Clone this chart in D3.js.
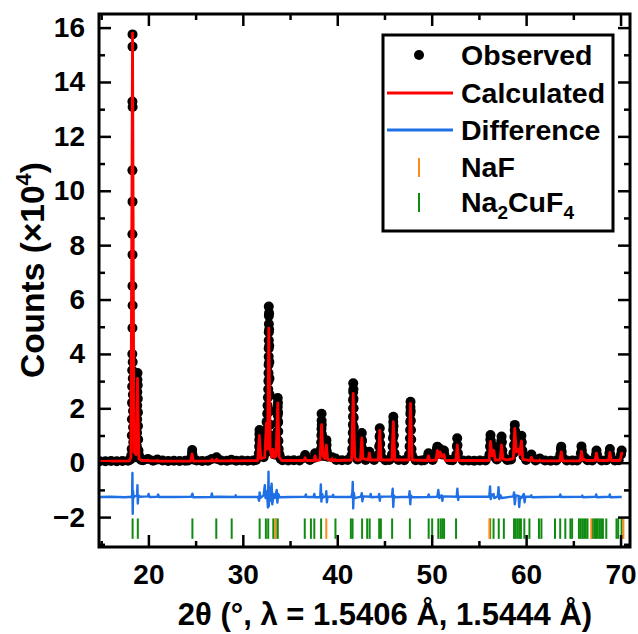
<!DOCTYPE html>
<html>
<head>
<meta charset="utf-8">
<script src="https://cdn.jsdelivr.net/npm/d3@7"></script>
<style>
  body { margin: 0; background: #fff; }
  svg { display: block; }
  text { font-family: "Liberation Sans", Arial, sans-serif; font-weight: bold; fill: #000; }
</style>
</head>
<body>
<svg id="chart" width="638" height="634"></svg>
<script>
// Powder pattern: observed counts (x10^4) against 2-theta (degrees)
const observed = [
  // background
  [14.85,0.05],[15.45,0.05],[16.05,0.06],[16.65,0.05],[17.25,0.06],[17.85,0.07],[19.45,0.09],[20.5,0.07],
  [21.5,0.08],[22.1,0.06],[22.7,0.07],[23.3,0.06],[23.9,0.07],[24.2,0.08],[25.1,0.08],[25.7,0.06],[26.3,0.07],
  [27.7,0.08],[28.3,0.07],[29.3,0.07],[29.9,0.08],[30.5,0.07],[31.1,0.08],[31.4,0.1],[34.2,0.09],[34.8,0.08],
  [35.4,0.09],[36.0,0.08],[37.1,0.1],[39.9,0.1],[40.5,0.09],[41.1,0.1],[42.15,0.12],[43.0,0.1],[43.9,0.1],
  [45.1,0.09],[45.5,0.1],[46.5,0.1],[47.1,0.09],[48.3,0.09],[48.9,0.08],[49.2,0.09],[50.1,0.1],[51.9,0.1],
  [52.2,0.09],[53.3,0.08],[53.9,0.08],[54.5,0.07],[55.1,0.08],[55.7,0.08],[56.9,0.12],[58.0,0.1],[58.4,0.12],
  [60.0,0.1],[61.0,0.08],[62.0,0.08],[62.6,0.07],[63.2,0.08],[64.3,0.08],[64.9,0.08],[65.4,0.08],[66.5,0.09],
  [67.0,0.08],[68.0,0.08],[68.5,0.09],[69.4,0.08],[69.8,0.09],
  // 18-19 degrees
  [18.32,15.75],[18.32,15.3],[18.31,13.28],[18.33,13.08],[18.31,10.75],[18.32,9.6],[18.31,8.4],[18.32,7.65],
  [18.31,6.5],[18.33,5.78],[18.31,4.95],[18.3,4.0],[18.34,3.7],[18.29,3.4],[18.35,3.1],[18.28,2.8],[18.36,2.5],
  [18.27,2.2],[18.37,1.9],[18.26,1.6],[18.38,1.3],[18.25,1.0],[18.4,0.75],[18.23,0.5],[18.43,0.4],[18.18,0.25],
  [18.5,0.3],[18.1,0.12],[18.6,0.2],
  [18.85,3.3],[18.84,3.05],[18.87,2.85],[18.83,2.6],[18.88,2.35],[18.82,2.1],[18.89,1.85],[18.81,1.6],
  [18.9,1.35],[18.8,1.1],[18.92,0.85],[18.78,0.6],[18.95,0.45],[18.72,0.35],[19.02,0.25],[19.12,0.15],[19.25,0.1],
  [19.95,0.14],[20.95,0.12],
  [24.58,0.2],[24.62,0.35],[24.64,0.47],[24.68,0.28],[24.75,0.12],
  [26.73,0.14],[27.22,0.2],[27.27,0.14],[28.78,0.11],
  // 31-34 degrees
  [31.7,0.35],[31.73,0.6],[31.75,0.85],[31.76,1.05],[31.77,1.2],[31.79,0.8],[31.81,0.5],[31.88,0.25],
  [32.2,0.2],[32.35,0.35],[32.45,0.6],[32.48,0.9],[32.5,1.2],[32.52,1.5],[32.58,1.8],[32.62,2.1],[32.66,2.4],
  [32.69,2.7],[32.71,3.0],[32.72,3.3],[32.73,3.6],[32.74,3.9],[32.74,4.2],[32.75,4.5],[32.75,4.8],[32.76,5.1],
  [32.76,5.4],[32.75,5.74],[32.78,5.5],[32.79,4.9],[32.8,4.3],[32.81,3.7],[32.82,3.1],[32.84,2.5],[32.86,1.9],
  [32.88,1.4],[32.9,1.0],[32.94,0.7],[33.0,0.45],[33.1,0.4],[33.18,0.55],[33.21,0.7],[33.25,0.45],[33.35,0.3],
  [33.5,0.3],[33.6,0.55],[33.65,0.85],[33.67,1.15],[33.68,1.45],[33.69,1.75],[33.7,2.05],[33.7,2.38],[33.72,2.2],
  [33.73,1.85],[33.74,1.5],[33.75,1.15],[33.77,0.8],[33.8,0.5],[33.88,0.3],[34.0,0.15],
  // 36-40 degrees
  [36.55,0.18],[36.6,0.28],[36.64,0.2],[37.6,0.18],[37.65,0.35],[37.68,0.22],
  [38.22,0.25],[38.28,0.5],[38.3,0.75],[38.32,1.0],[38.33,1.25],[38.34,1.55],[38.34,1.8],[38.36,1.4],[38.37,1.05],
  [38.39,0.7],[38.42,0.45],[38.5,0.3],[38.6,0.25],[38.75,0.3],[38.82,0.5],[38.85,0.83],[38.87,0.65],[38.9,0.4],
  [38.98,0.22],[39.45,0.2],[39.82,0.15],
  // 41-48 degrees
  [41.5,0.25],[41.58,0.5],[41.62,0.8],[41.64,1.1],[41.66,1.4],[41.67,1.7],[41.68,2.0],[41.68,2.3],[41.69,2.6],
  [41.69,2.92],[41.71,2.7],[41.72,2.35],[41.73,2.0],[41.74,1.65],[41.75,1.3],[41.77,0.95],[41.8,0.6],[41.86,0.35],
  [41.95,0.2],
  [42.5,0.3],[42.55,0.6],[42.58,0.85],[42.6,1.09],[42.62,0.8],[42.65,0.5],[42.72,0.25],
  [43.35,0.25],[43.4,0.4],[43.45,0.25],
  [44.38,0.3],[44.44,0.6],[44.48,0.95],[44.5,1.27],[44.52,1.0],[44.55,0.7],[44.6,0.4],[44.68,0.2],
  [45.8,0.3],[45.86,0.6],[45.9,0.9],[45.92,1.2],[45.93,1.5],[45.94,1.69],[45.96,1.35],[45.98,1.0],[46.01,0.65],
  [46.06,0.35],[46.15,0.18],
  [47.6,0.3],[47.66,0.6],[47.7,0.9],[47.72,1.2],[47.73,1.5],[47.74,1.8],[47.75,2.05],[47.76,2.24],[47.78,1.9],
  [47.79,1.55],[47.81,1.2],[47.83,0.85],[47.86,0.5],[47.93,0.25],
  // 49-53 degrees
  [49.6,0.22],[49.66,0.35],[49.7,0.2],
  [50.5,0.3],[50.55,0.5],[50.6,0.59],[50.65,0.4],[50.9,0.5],[50.95,0.35],[51.1,0.3],[51.3,0.45],[51.34,0.3],
  [52.62,0.3],[52.67,0.6],[52.7,0.9],[52.73,0.65],[52.78,0.35],
  // 56-61 degrees
  [56.12,0.3],[56.18,0.6],[56.21,0.85],[56.23,1.02],[56.26,0.8],[56.3,0.5],[56.42,0.35],[56.55,0.45],[56.58,0.6],
  [56.62,0.4],[56.72,0.2],
  [57.25,0.3],[57.32,0.55],[57.37,0.8],[57.4,0.96],[57.43,0.75],[57.48,0.45],[57.58,0.22],
  [58.65,0.35],[58.72,0.65],[58.76,0.95],[58.79,1.2],[58.8,1.39],[58.83,1.15],[58.87,0.9],[58.93,0.75],[59.0,0.7],
  [59.08,0.6],[59.2,0.55],[59.3,0.5],[59.4,0.6],[59.46,0.8],[59.5,0.99],[59.54,0.75],[59.6,0.45],[59.72,0.25],
  [60.5,0.22],[60.56,0.3],[60.62,0.2],[61.45,0.15],
  // 63-70 degrees
  [63.62,0.3],[63.68,0.5],[63.72,0.59],[63.77,0.4],[63.85,0.2],
  [65.8,0.35],[65.86,0.6],[65.9,0.45],[66.0,0.25],[66.2,0.18],
  [67.4,0.3],[67.45,0.45],[67.5,0.3],
  [68.82,0.35],[68.87,0.5],[68.92,0.3],
  [70.05,0.3],[70.12,0.45]
];

// Refined profile
const calculated = [
  [14.85,0.05],[18.0,0.07],[18.15,0.2],[18.32,15.8],[18.47,0.4],[18.7,0.3],[18.85,3.1],[19.0,0.15],[19.3,0.08],
  [19.88,0.08],[19.95,0.1],[20.02,0.07],[20.88,0.07],[20.95,0.09],[21.02,0.06],[24.48,0.06],[24.62,0.32],[24.76,0.06],
  [26.66,0.07],[26.73,0.12],[26.8,0.07],[27.15,0.07],[27.22,0.13],[27.3,0.07],[28.71,0.07],[28.78,0.1],[28.85,0.07],
  [31.58,0.08],[31.75,1.0],[31.9,0.15],[32.32,0.2],[32.5,1.45],[32.62,0.5],[32.75,4.95],[32.9,0.5],[33.05,0.2],
  [33.2,0.5],[33.32,0.2],[33.52,0.25],[33.7,2.2],[33.86,0.2],[34.1,0.08],
  [36.47,0.08],[36.6,0.18],[36.72,0.08],[37.53,0.08],[37.65,0.25],[37.77,0.08],[38.18,0.1],[38.34,1.4],[38.5,0.25],
  [38.68,0.15],[38.85,0.65],[38.98,0.12],[39.35,0.08],[39.45,0.15],[39.55,0.08],[39.75,0.08],[39.82,0.12],[39.9,0.08],
  [41.52,0.1],[41.69,2.55],[41.85,0.2],[42.0,0.1],[42.46,0.1],[42.6,0.91],[42.73,0.15],[43.29,0.1],[43.4,0.35],
  [43.51,0.1],[44.35,0.1],[44.5,1.2],[44.65,0.1],[45.78,0.1],[45.94,1.51],[46.1,0.1],[47.58,0.1],[47.76,2.18],
  [47.93,0.1],[49.54,0.08],[49.66,0.25],[49.78,0.08],[50.47,0.1],[50.6,0.45],[50.74,0.2],[50.9,0.4],[51.08,0.2],
  [51.3,0.3],[51.44,0.08],[52.56,0.08],[52.71,0.65],[52.86,0.08],
  [56.08,0.08],[56.23,0.78],[56.4,0.25],[56.58,0.45],[56.72,0.1],[57.25,0.1],[57.4,0.65],[57.54,0.15],[58.0,0.1],
  [58.64,0.15],[58.8,1.26],[58.95,0.4],[59.15,0.5],[59.32,0.3],[59.5,0.8],[59.65,0.12],[60.44,0.08],[60.56,0.2],
  [60.68,0.08],[61.36,0.07],[61.45,0.1],[61.56,0.07],[63.57,0.07],[63.72,0.4],[63.86,0.07],[65.72,0.07],[65.86,0.42],
  [66.0,0.1],[66.18,0.12],[66.32,0.08],[67.3,0.08],[67.45,0.35],[67.6,0.08],[68.72,0.08],[68.87,0.38],[69.02,0.08],
  [69.95,0.08],[70.12,0.35],[70.15,0.3]
];

// Observed minus calculated, drawn with its offset baseline
const difference = [
  [14.85,-1.26],[16.0,-1.25],[17.5,-1.27],[18.2,-1.25],[18.28,-1.2],[18.31,-0.38],[18.34,-1.88],[18.38,-1.05],
  [18.42,-1.3],[18.5,-1.24],[18.8,-1.22],[18.84,-0.83],[18.88,-1.5],[18.93,-1.2],[19.1,-1.25],[19.95,-1.24],
  [20.03,-1.15],[20.1,-1.26],[20.95,-1.25],[21.04,-1.17],[21.12,-1.26],[22.5,-1.26],[24.55,-1.25],[24.66,-1.14],
  [24.74,-1.27],[26.65,-1.26],[26.72,-1.13],[26.8,-1.26],[27.3,-1.25],[29.2,-1.26],[29.25,-1.2],[29.32,-1.26],
  [31.6,-1.26],[31.72,-1.4],[31.78,-1.09],[31.85,-1.3],[32.2,-1.2],[32.33,-0.83],[32.4,-1.3],[32.55,-1.05],
  [32.66,-1.65],[32.72,-0.33],[32.76,-1.6],[32.82,-0.9],[32.88,-1.4],[32.98,-1.2],[33.05,-0.77],[33.12,-1.53],
  [33.25,-1.15],[33.4,-1.3],[33.59,-1.0],[33.66,-1.47],[33.75,-1.15],[33.9,-1.27],[35.0,-1.26],[36.6,-1.25],
  [36.67,-1.17],[36.74,-1.26],[37.5,-1.26],[37.57,-1.15],[37.64,-1.27],[38.2,-1.26],[38.26,-0.8],[38.32,-1.43],
  [38.4,-1.15],[38.5,-1.28],[38.78,-1.24],[38.84,-1.05],[38.9,-1.46],[38.98,-1.25],[39.5,-1.25],[39.56,-1.18],
  [39.63,-1.26],[41.5,-1.26],[41.6,-1.1],[41.64,-0.71],[41.69,-1.68],[41.75,-1.1],[41.85,-1.3],[42.5,-1.25],
  [42.6,-1.12],[42.66,-1.42],[42.75,-1.24],[43.5,-1.25],[43.54,-1.15],[43.6,-1.27],[44.38,-1.25],[44.44,-1.15],
  [44.5,-1.4],[44.58,-1.25],[45.8,-1.24],[45.87,-0.96],[45.93,-1.63],[46.0,-1.2],[46.1,-1.27],[47.6,-1.25],
  [47.66,-1.05],[47.73,-1.53],[47.8,-1.2],[47.9,-1.27],[49.6,-1.26],[49.68,-1.17],[49.75,-1.26],[50.6,-1.25],
  [50.7,-1.0],[50.8,-1.3],[51.05,-1.2],[51.13,-1.4],[51.2,-1.24],[52.65,-1.25],[52.72,-0.96],[52.8,-1.37],
  [52.88,-1.25],[56.1,-1.25],[56.18,-0.87],[56.25,-1.34],[56.35,-1.2],[56.55,-1.15],[56.62,-1.3],[57.0,-1.24],
  [57.08,-0.9],[57.15,-1.34],[57.3,-1.2],[57.4,-1.3],[58.65,-1.24],[58.72,-1.09],[58.8,-1.53],[58.9,-1.2],
  [59.2,-1.22],[59.27,-1.63],[59.35,-1.25],[59.5,-1.3],[59.76,-1.15],[59.84,-1.46],[59.92,-1.25],[60.5,-1.25],
  [60.55,-1.2],[60.62,-1.27],[62.0,-1.26],[63.55,-1.25],[63.62,-1.17],[63.7,-1.26],[65.9,-1.25],[65.95,-1.21],
  [66.02,-1.27],[67.35,-1.25],[67.42,-1.17],[67.5,-1.27],[68.8,-1.25],[68.86,-1.17],[68.93,-1.27],[69.9,-1.26],
  [70.12,-1.26]
];

// Reflection positions (2-theta) for each phase
const naFReflections = [33.47, 38.84, 56.11, 66.9, 70.3];
const na2CuF4Reflections = [
  18.33, 18.88, 24.66, 27.19, 28.82, 31.78, 32.44, 32.69, 33.23, 33.48, 33.70, 36.56, 37.21, 37.57, 38.29,
  39.81, 41.44, 41.62, 42.63, 43.17, 43.43, 44.44, 44.62, 45.81, 47.69, 49.68, 50.05, 50.70, 50.95, 51.13,
  51.31, 52.58, 56.19, 56.55, 57.10, 57.64, 58.72, 58.90, 59.09, 59.27, 59.45, 59.81, 60.35, 61.36, 61.62,
  63.06, 63.61, 64.15, 64.69, 64.87, 65.59, 65.77, 65.95, 66.14, 66.32, 66.50, 67.04, 67.22, 67.40, 67.58,
  67.76, 67.94, 68.13, 68.49, 69.57, 69.75, 70.11
];
const reflectionRow = [-2.05, -2.8];

const xMajorTicks = [20, 30, 40, 50, 60, 70];
const xMinorTicks = [15, 25, 35, 45, 55, 65];
const yMajorTicks = [-2, 0, 2, 4, 6, 8, 10, 12, 14, 16];
const yMinorTicks = [-3, -1, 1, 3, 5, 7, 9, 11, 13, 15];

const colors = { obs: "#000000", calc: "#ff0000", diff: "#1f6fe5", naf: "#ff8c1a", na2cuf4: "#118a11" };

const svg = d3.select("#chart");
const plot = { left: 99, right: 630, top: 14, bottom: 547 };

const x = d3.scaleLinear().domain([14.77, 71.0]).range([plot.left, plot.right]);
const y = d3.scaleLinear().domain([-3.1, 16.5]).range([plot.bottom, plot.top]);

const clipId = "plot-clip";
svg.append("clipPath").attr("id", clipId).append("rect")
  .attr("x", plot.left).attr("y", plot.top)
  .attr("width", plot.right - plot.left).attr("height", plot.bottom - plot.top);

const body = svg.append("g").attr("clip-path", `url(#${clipId})`);

// reflection markers
body.append("g").selectAll("line").data(na2CuF4Reflections).join("line")
  .attr("x1", d => x(d)).attr("x2", d => x(d))
  .attr("y1", y(reflectionRow[0])).attr("y2", y(reflectionRow[1]))
  .attr("stroke", colors.na2cuf4).attr("stroke-width", 2);
body.append("g").selectAll("line").data(naFReflections).join("line")
  .attr("x1", d => x(d)).attr("x2", d => x(d))
  .attr("y1", y(reflectionRow[0])).attr("y2", y(reflectionRow[1]))
  .attr("stroke", colors.naf).attr("stroke-width", 2);

// difference curve
const line = d3.line().x(d => x(d[0])).y(d => y(d[1]));
body.append("path").datum(difference)
  .attr("d", line).attr("fill", "none")
  .attr("stroke", colors.diff).attr("stroke-width", 2.4).attr("stroke-linejoin", "round");

// observed points
body.append("g").selectAll("circle").data(observed).join("circle")
  .attr("cx", d => x(d[0])).attr("cy", d => y(d[1])).attr("r", 5)
  .attr("fill", colors.obs);

// calculated profile
body.append("path").datum(calculated)
  .attr("d", line).attr("fill", "none")
  .attr("stroke", colors.calc).attr("stroke-width", 2.8).attr("stroke-linejoin", "round");

// axes: ticks point inward on all four sides
const fmt = d3.format("d");
function styleAxis(g) {
  g.select(".domain").remove();
  g.selectAll(".tick line").attr("stroke", "#000").attr("stroke-width", 2.5);
  g.selectAll(".tick text").style("font-size", "28px").style("font-weight", "bold")
    .style("font-family", '"Liberation Sans", Arial, sans-serif').attr("fill", "#000");
}
svg.append("g").attr("transform", `translate(0,${plot.bottom})`)
  .call(d3.axisBottom(x).tickValues(xMajorTicks).tickSize(-12).tickPadding(17).tickFormat(fmt)).call(styleAxis);
svg.append("g").attr("transform", `translate(0,${plot.bottom})`)
  .call(d3.axisBottom(x).tickValues(xMinorTicks).tickSize(-6).tickFormat("")).call(styleAxis);
svg.append("g").attr("transform", `translate(0,${plot.top})`)
  .call(d3.axisTop(x).tickValues(xMajorTicks).tickSize(-12).tickFormat("")).call(styleAxis);
svg.append("g").attr("transform", `translate(0,${plot.top})`)
  .call(d3.axisTop(x).tickValues(xMinorTicks).tickSize(-6).tickFormat("")).call(styleAxis);
svg.append("g").attr("transform", `translate(${plot.left},0)`)
  .call(d3.axisLeft(y).tickValues(yMajorTicks).tickSize(-12).tickPadding(14).tickFormat(fmt)).call(styleAxis);
svg.append("g").attr("transform", `translate(${plot.left},0)`)
  .call(d3.axisLeft(y).tickValues(yMinorTicks).tickSize(-6).tickFormat("")).call(styleAxis);
svg.append("g").attr("transform", `translate(${plot.right},0)`)
  .call(d3.axisRight(y).tickValues(yMajorTicks).tickSize(-12).tickFormat("")).call(styleAxis);
svg.append("g").attr("transform", `translate(${plot.right},0)`)
  .call(d3.axisRight(y).tickValues(yMinorTicks).tickSize(-6).tickFormat("")).call(styleAxis);

// frame
svg.append("rect")
  .attr("x", plot.left).attr("y", plot.top)
  .attr("width", plot.right - plot.left).attr("height", plot.bottom - plot.top)
  .attr("fill", "none").attr("stroke", "#000").attr("stroke-width", 3);

// axis titles
svg.append("text").attr("x", 385).attr("y", 625).attr("text-anchor", "middle")
  .style("font-size", "31px").text("2\u03B8 (\u00B0, \u03BB = 1.5406 \u00C5, 1.5444 \u00C5)");
const yTitle = svg.append("text")
  .attr("transform", "translate(44,270) rotate(-90)").attr("text-anchor", "middle")
  .style("font-size", "33.5px");
yTitle.append("tspan").text("Counts (\u00D710");
yTitle.append("tspan").attr("dy", -13).style("font-size", "22px").text("4");
yTitle.append("tspan").attr("dy", 13).text(")");

// legend
const legend = svg.append("g");
legend.append("rect").attr("x", 383).attr("y", 35).attr("width", 230).attr("height", 196)
  .attr("fill", "#fff").attr("stroke", "#000").attr("stroke-width", 3);
const rows = [
  { label: "Observed", kind: "dot", color: colors.obs, cy: 55 },
  { label: "Calculated", kind: "line", color: colors.calc, cy: 93 },
  { label: "Difference", kind: "line", color: colors.diff, cy: 130 },
  { label: "NaF", kind: "tick", color: colors.naf, cy: 167 },
  { label: "Na2CuF4", kind: "tick", color: colors.na2cuf4, cy: 202 }
];
rows.forEach(r => {
  if (r.kind === "dot") {
    legend.append("circle").attr("cx", 419).attr("cy", r.cy).attr("r", 5).attr("fill", r.color);
  } else if (r.kind === "line") {
    legend.append("line").attr("x1", 387).attr("x2", 453).attr("y1", r.cy).attr("y2", r.cy)
      .attr("stroke", r.color).attr("stroke-width", 2.8);
  } else {
    legend.append("line").attr("x1", 419).attr("x2", 419).attr("y1", r.cy - 9).attr("y2", r.cy + 10)
      .attr("stroke", r.color).attr("stroke-width", 2);
  }
  const t = legend.append("text").attr("x", 461).attr("y", r.cy + 10).style("font-size", "28.5px");
  if (r.label === "Na2CuF4") {
    t.append("tspan").text("Na");
    t.append("tspan").attr("dy", 7).style("font-size", "19px").text("2");
    t.append("tspan").attr("dy", -7).text("CuF");
    t.append("tspan").attr("dy", 7).style("font-size", "19px").text("4");
  } else {
    t.text(r.label);
  }
});
</script>
</body>
</html>
